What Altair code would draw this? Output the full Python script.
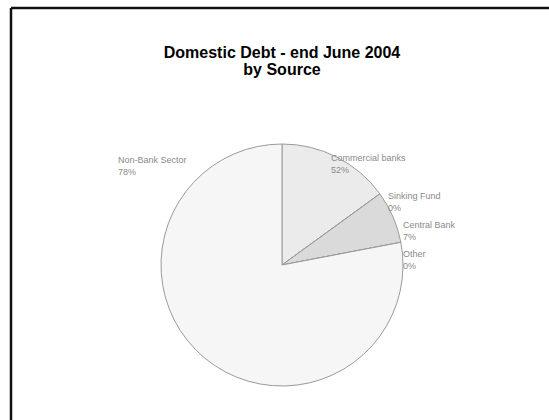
import altair as alt
import pandas as pd

# ---- data ----
sources = ["Commercial banks", "Sinking Fund", "Central Bank", "Other", "Non-Bank Sector"]
shares = [15, 0, 7, 0, 78]
pct_labels = ["52%", "0%", "7%", "0%", "78%"]
title_lines = ["Domestic Debt - end June 2004", "by Source"]

df = pd.DataFrame({"source": sources, "share": shares, "order": list(range(len(sources)))})

W, H = 549, 420
CX, CY, R = 282, 265, 121

fills = ["#ebebeb", "#e4e4e4", "#dadada", "#f0f0f0", "#f6f6f6"]

pie = alt.Chart(df).mark_arc(stroke="#9a9a9a", strokeWidth=1, outerRadius=R).encode(
    theta=alt.Theta("share:Q", stack=True),
    order=alt.Order("order:Q"),
    color=alt.Color("source:N", scale=alt.Scale(domain=sources, range=fills), legend=None),
    x=alt.value(CX),
    y=alt.value(CY),
)

# label layout (pixel positions of each label block)
label_pos = {
    "Commercial banks": (331, 158),
    "Sinking Fund": (388, 196),
    "Central Bank": (403, 225),
    "Other": (403, 254),
    "Non-Bank Sector": (118, 160),
}

layers = [pie]
for s, p in zip(sources, pct_labels):
    lx, ly = label_pos[s]
    layers.append(
        alt.Chart(pd.DataFrame({"t": [[s, p]]})).mark_text(
            align="left", baseline="middle", fontSize=9, font="Liberation Sans",
            color="#8a8a8a", lineHeight=12,
        ).encode(text="t:N", x=alt.value(lx), y=alt.value(ly))
    )

layers.append(
    alt.Chart(pd.DataFrame({"t": [title_lines]})).mark_text(
        align="center", baseline="middle", fontSize=16, fontWeight="bold",
        font="Liberation Sans", color="#000000", lineHeight=17,
    ).encode(text="t:N", x=alt.value(282), y=alt.value(53))
)

# frame (decoration)
frame_top = alt.Chart(pd.DataFrame({"a": [0]})).mark_rule(color="#111111", strokeWidth=2.5).encode(
    x=alt.value(11), x2=alt.value(W), y=alt.value(8)
)
frame_left = alt.Chart(pd.DataFrame({"a": [0]})).mark_rule(color="#111111", strokeWidth=2.5).encode(
    x=alt.value(11), y=alt.value(8), y2=alt.value(H)
)
layers += [frame_top, frame_left]

chart = alt.layer(*layers).properties(
    width=W, height=H, padding=0, autosize=alt.AutoSizeParams(type="none"),
    background="white",
).configure_view(stroke=None)

chart.save("out.html", embed_options={"renderer": "svg", "actions": False})
